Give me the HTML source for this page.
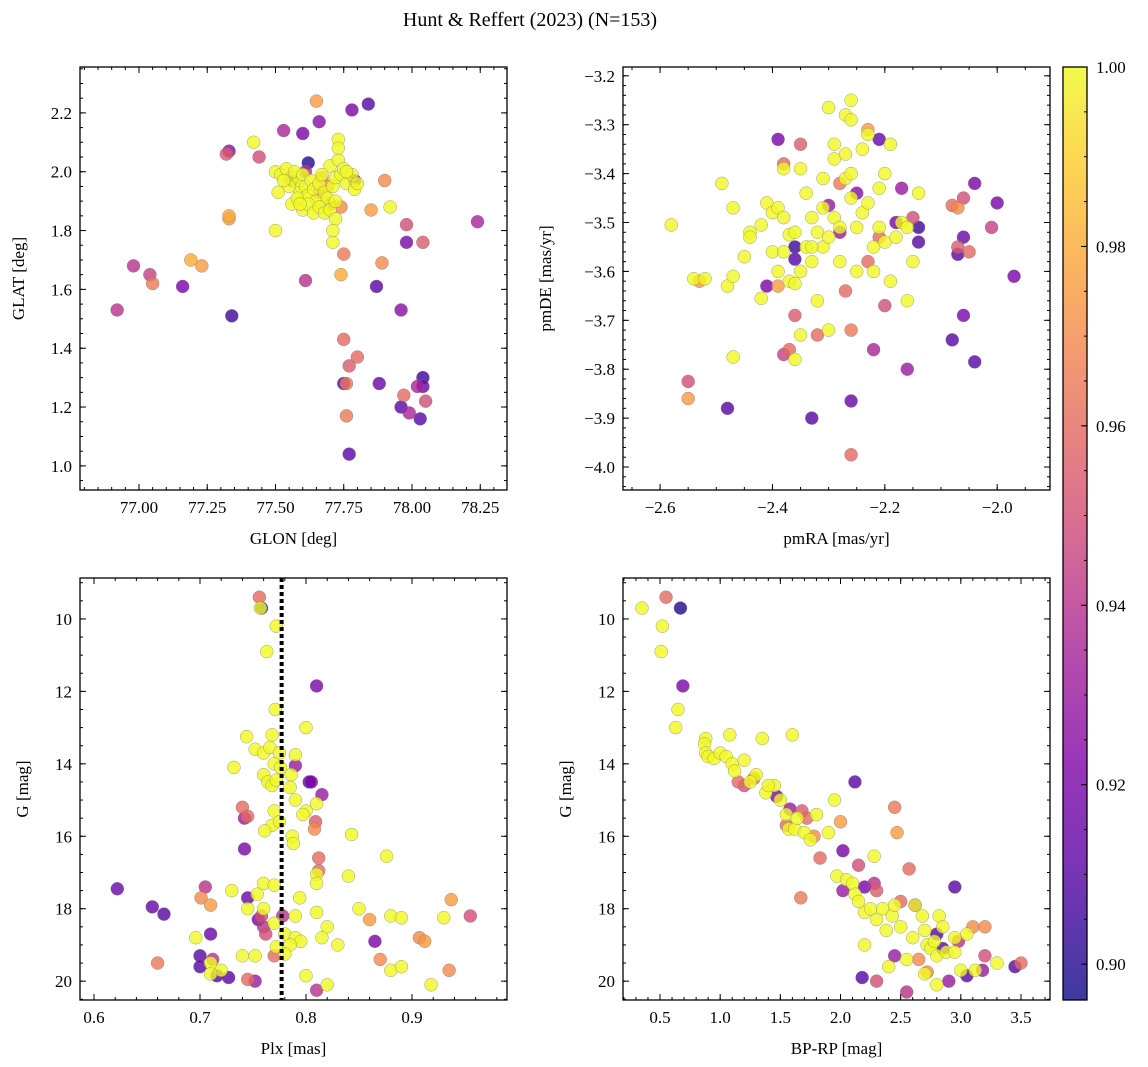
<!DOCTYPE html>
<html><head><meta charset="utf-8"><style>
html,body{margin:0;padding:0;background:#fff;}
svg{display:block;font-family:"Liberation Serif","DejaVu Serif",serif;}
</style></head><body>
<svg id="chart" width="1148" height="1067" viewBox="0 0 1148 1067" xmlns="http://www.w3.org/2000/svg">
<text x="530" y="26" font-size="20" text-anchor="middle">Hunt &amp; Reffert (2023) (N=153)</text>
</svg>
<script>
// ---- data: [x, y, membership probability] ----
const glonGlat = [
[77.65,2.24,0.975],[77.84,2.23,0.91],[77.78,2.21,0.92],[77.66,2.17,0.925],[77.60,2.13,0.92],[77.53,2.14,0.935],[77.42,2.10,1.0],[77.73,2.11,1.0],[77.33,2.07,0.925],[77.32,2.06,0.955],[77.44,2.05,0.95],[77.62,2.03,0.9],[77.90,1.97,0.97],[77.33,1.84,0.975],[77.33,1.85,0.98],[77.50,1.80,1.0],[77.71,1.76,1.0],[77.85,1.87,0.975],[77.92,1.88,1.0],[77.98,1.82,0.95],[77.98,1.76,0.92],[78.04,1.76,0.955],[78.24,1.83,0.935],[77.89,1.69,0.97],[77.75,1.72,0.965],[77.74,1.65,0.98],[77.61,1.63,0.94],[76.98,1.68,0.94],[77.04,1.65,0.945],[77.05,1.62,0.965],[77.16,1.61,0.92],[77.19,1.70,0.98],[77.23,1.68,0.975],[76.92,1.53,0.94],[77.34,1.51,0.905],[77.87,1.61,0.91],[77.96,1.53,0.925],[77.75,1.43,0.96],[77.77,1.34,0.955],[77.80,1.37,0.96],[77.75,1.28,0.91],[77.76,1.28,0.965],[77.76,1.17,0.965],[77.77,1.04,0.91],[77.88,1.28,0.915],[77.97,1.24,0.96],[77.96,1.20,0.91],[77.99,1.18,0.935],[78.02,1.27,0.935],[78.04,1.27,0.915],[78.04,1.30,0.905],[78.05,1.22,0.95],[78.03,1.16,0.91],
[77.50,2.0,1],[77.52,1.99,1],[77.54,2.01,1],[77.56,1.98,1],[77.57,2.00,1],[77.58,1.96,1],[77.59,1.93,1],[77.60,1.99,1],[77.61,1.95,1],[77.62,1.92,1],[77.63,1.97,1],[77.64,1.94,1],[77.65,1.90,1],[77.66,1.96,1],[77.67,1.88,1],[77.68,1.93,1],[77.69,1.91,1],[77.70,2.02,1],[77.71,1.95,1],[77.72,1.98,1],[77.73,2.04,1],[77.74,1.99,1],[77.75,2.01,1],[77.76,1.96,1],[77.78,1.99,1],[77.79,1.94,1],[77.80,1.96,1],[77.56,1.89,1],[77.58,1.91,1],[77.60,1.87,1],[77.62,1.89,1],[77.64,1.86,1],[77.66,1.88,1],[77.68,1.86,1],[77.70,1.87,1],[77.72,1.84,1],[77.71,1.80,1],[77.73,2.08,1],[77.51,1.93,1],[77.55,1.95,1],[77.53,1.97,1],[77.59,1.89,1],[77.67,1.99,1],[77.72,1.90,1],[77.76,2.0,1],
[77.67,1.98,0.97],[77.70,1.89,0.965],[77.66,1.93,0.96],[77.74,1.88,0.97],[77.69,1.95,0.975],[77.56,1.97,0.92],[77.61,2.0,0.94],[77.79,1.97,0.92]];
const pmraPmde = [
[-2.58,-3.505,1],[-2.54,-3.615,1],[-2.52,-3.615,1],[-2.49,-3.42,1],[-2.48,-3.63,1],[-2.47,-3.47,1],[-2.47,-3.61,1],[-2.47,-3.775,1],[-2.45,-3.57,1],[-2.44,-3.52,1],[-2.44,-3.53,1],[-2.42,-3.505,1],[-2.42,-3.655,1],[-2.41,-3.46,1],[-2.40,-3.48,1],[-2.40,-3.56,1],[-2.39,-3.47,1],[-2.39,-3.6,1],[-2.38,-3.49,1],[-2.38,-3.39,1],[-2.37,-3.62,1],[-2.37,-3.525,1],[-2.36,-3.78,1],[-2.35,-3.73,1],[-2.35,-3.60,1],[-2.34,-3.55,1],[-2.34,-3.44,1],[-2.33,-3.49,1],[-2.33,-3.58,1],[-2.32,-3.52,1],[-2.32,-3.66,1],[-2.31,-3.41,1],[-2.31,-3.55,1],[-2.30,-3.265,1],[-2.30,-3.72,1],[-2.29,-3.49,1],[-2.29,-3.37,1],[-2.29,-3.34,1],[-2.28,-3.51,1],[-2.28,-3.58,1],[-2.27,-3.41,1],[-2.27,-3.36,1],[-2.27,-3.28,1],[-2.26,-3.25,1],[-2.26,-3.29,1],[-2.26,-3.45,1],[-2.26,-3.40,1],[-2.25,-3.51,1],[-2.25,-3.6,1],[-2.24,-3.48,1],[-2.23,-3.32,1],[-2.23,-3.46,1],[-2.22,-3.55,1],[-2.22,-3.6,1],[-2.21,-3.51,1],[-2.21,-3.43,1],[-2.20,-3.40,1],[-2.20,-3.54,1],[-2.19,-3.34,1],[-2.19,-3.62,1],[-2.18,-3.53,1],[-2.17,-3.50,1],[-2.16,-3.51,1],[-2.16,-3.66,1],[-2.15,-3.58,1],[-2.14,-3.44,1],[-2.36,-3.625,1],[-2.33,-3.55,1],[-2.31,-3.47,1],[-2.36,-3.52,1],[-2.24,-3.35,1],[-2.30,-3.53,1],[-2.35,-3.39,1],[-2.38,-3.56,1],
[-2.55,-3.825,0.95],[-2.55,-3.86,0.975],[-2.53,-3.62,0.975],[-2.48,-3.88,0.91],[-2.41,-3.63,0.92],[-2.39,-3.33,0.92],[-2.38,-3.38,0.96],[-2.38,-3.77,0.945],[-2.37,-3.76,0.96],[-2.39,-3.63,0.975],[-2.36,-3.69,0.955],[-2.36,-3.55,0.905],[-2.36,-3.575,0.91],[-2.35,-3.34,0.955],[-2.33,-3.90,0.91],[-2.32,-3.73,0.96],[-2.28,-3.42,0.965],[-2.28,-3.52,0.93],[-2.27,-3.64,0.96],[-2.26,-3.72,0.965],[-2.26,-3.865,0.915],[-2.26,-3.975,0.96],[-2.25,-3.44,0.925],[-2.23,-3.31,0.975],[-2.23,-3.58,0.96],[-2.22,-3.76,0.935],[-2.21,-3.53,0.96],[-2.21,-3.33,0.915],[-2.20,-3.67,0.95],[-2.18,-3.5,0.92],[-2.17,-3.43,0.93],[-2.16,-3.80,0.93],[-2.14,-3.54,0.91],[-2.14,-3.51,0.905],[-2.15,-3.49,0.95],[-2.08,-3.465,0.96],[-2.07,-3.47,0.97],[-2.07,-3.55,0.955],[-2.07,-3.565,0.91],[-2.06,-3.53,0.915],[-2.06,-3.69,0.92],[-2.05,-3.56,0.96],[-2.04,-3.42,0.92],[-2.04,-3.785,0.91],[-2.08,-3.74,0.91],[-2.06,-3.45,0.95],[-2.01,-3.51,0.945],[-2.00,-3.46,0.92],[-1.97,-3.61,0.92],[-2.30,-3.465,0.93]];
const plxG = [
[0.757,9.7,1],[0.772,10.2,1],[0.763,10.9,1],[0.771,12.5,1],[0.744,13.25,1],[0.768,13.2,1],[0.80,13.0,1],[0.752,13.6,1],[0.76,13.7,1],[0.766,13.55,1],[0.775,13.7,1],[0.77,14.0,1],[0.76,14.3,1],[0.764,14.5,1],[0.768,14.6,1],[0.772,14.45,1],[0.786,14.3,1],[0.79,13.75,1],[0.785,14.65,1],[0.776,14.1,1],[0.732,14.1,1],[0.79,15.0,1],[0.80,15.3,1],[0.77,15.3,1],[0.768,15.7,1],[0.775,15.6,1],[0.761,15.85,1],[0.787,16.0,1],[0.788,16.2,1],[0.797,15.4,1],[0.81,15.1,1],[0.843,15.95,1],[0.876,16.55,1],[0.81,17.05,1],[0.81,17.3,1],[0.76,17.3,1],[0.754,17.6,1],[0.73,17.5,1],[0.77,17.35,1],[0.794,17.7,1],[0.745,18.0,1],[0.76,18.0,1],[0.79,18.2,1],[0.77,18.4,1],[0.82,18.5,1],[0.81,18.1,1],[0.84,17.1,1],[0.85,18.0,1],[0.88,18.2,1],[0.89,18.25,1],[0.93,18.25,1],[0.78,18.7,1],[0.79,18.8,1],[0.795,18.9,1],[0.785,19.0,1],[0.772,19.05,1],[0.83,19.0,1],[0.815,18.8,1],[0.74,19.3,1],[0.752,19.3,1],[0.78,19.25,1],[0.696,18.8,1],[0.71,19.5,1],[0.72,19.7,1],[0.71,19.8,1],[0.88,19.7,1],[0.89,19.6,1],[0.82,20.1,1],[0.918,20.1,1],[0.80,19.85,1],
[0.756,9.4,0.96],[0.758,9.7,0.9],[0.81,11.85,0.92],[0.79,14.05,0.93],[0.803,14.5,0.91],[0.805,14.5,0.92],[0.815,14.85,0.93],[0.74,15.2,0.96],[0.742,15.5,0.93],[0.745,15.45,0.96],[0.809,15.6,0.955],[0.808,15.8,0.97],[0.742,16.35,0.92],[0.812,16.6,0.96],[0.812,16.95,0.96],[0.622,17.45,0.915],[0.705,17.4,0.94],[0.701,17.7,0.97],[0.71,17.9,0.975],[0.745,17.7,0.915],[0.758,18.2,0.95],[0.755,18.3,0.92],[0.655,17.95,0.915],[0.666,18.15,0.91],[0.71,18.7,0.915],[0.762,18.7,0.95],[0.778,18.2,0.94],[0.86,18.3,0.975],[0.865,18.9,0.92],[0.907,18.8,0.97],[0.912,18.9,0.975],[0.937,17.75,0.975],[0.955,18.2,0.95],[0.935,19.7,0.97],[0.87,19.4,0.97],[0.66,19.5,0.965],[0.70,19.3,0.91],[0.70,19.6,0.91],[0.712,19.4,0.94],[0.716,19.85,0.91],[0.727,19.9,0.91],[0.745,19.95,0.96],[0.752,20.0,0.93],[0.77,19.3,0.96],[0.81,20.25,0.94],[0.76,18.5,0.94]];
const bprpG = [
[0.35,9.7,1],[0.52,10.2,1],[0.51,10.9,1],[0.65,12.5,1],[0.63,13.0,1],[0.88,13.3,1],[0.87,13.45,1],[0.88,13.7,1],[0.9,13.8,1],[0.95,13.85,1],[1.0,13.7,1],[1.08,13.2,1],[1.05,13.8,1],[1.1,14.0,1],[1.12,14.2,1],[1.2,13.9,1],[1.3,14.3,1],[1.35,13.3,1],[1.38,14.8,1],[1.45,14.6,1],[1.5,15.0,1],[1.6,13.2,1],[1.55,15.4,1],[1.57,15.8,1],[1.62,15.8,1],[1.64,15.5,1],[1.7,15.9,1],[1.75,16.1,1],[1.8,15.4,1],[1.9,15.9,1],[1.95,15.0,1],[1.97,17.1,1],[2.05,17.2,1],[2.1,17.3,1],[2.12,17.6,1],[2.15,17.8,1],[2.2,18.1,1],[2.25,18.0,1],[2.28,16.55,1],[2.3,18.3,1],[2.35,18.0,1],[2.38,18.6,1],[2.43,18.2,1],[2.45,17.9,1],[2.5,18.5,1],[2.55,19.4,1],[2.6,18.8,1],[2.62,17.9,1],[2.68,18.2,1],[2.7,18.6,1],[2.72,19.0,1],[2.75,19.1,1],[2.78,18.9,1],[2.8,19.3,1],[2.82,18.2,1],[2.85,18.5,1],[2.88,19.2,1],[2.95,18.8,1],[2.95,19.2,1],[3.0,19.7,1],[3.05,18.7,1],[3.12,19.7,1],[3.3,19.5,1],[2.2,19.0,1],[2.4,19.6,1],[2.8,20.1,1],[2.7,19.8,1],[1.4,14.6,1],[1.25,14.5,1],
[0.55,9.4,0.96],[0.67,9.7,0.9],[0.69,11.85,0.92],[1.15,14.5,0.96],[1.2,14.6,0.95],[1.28,14.4,0.96],[1.47,14.9,0.92],[1.58,15.25,0.93],[1.55,15.7,0.96],[1.68,15.3,0.955],[1.72,15.5,0.96],[1.78,16.0,0.97],[1.83,16.6,0.96],[2.0,15.6,0.975],[2.02,16.4,0.92],[2.12,14.5,0.91],[2.15,16.8,0.95],[2.02,17.5,0.93],[2.3,17.5,0.955],[2.45,15.2,0.965],[2.47,15.9,0.975],[2.57,16.9,0.96],[2.62,17.9,0.93],[1.67,17.7,0.965],[2.28,17.3,0.94],[2.18,19.9,0.91],[2.3,20.0,0.95],[2.45,19.3,0.93],[2.55,20.3,0.94],[2.65,19.4,0.97],[2.72,19.75,0.97],[2.8,18.7,0.91],[2.85,19.1,0.91],[2.9,20.0,0.93],[2.95,17.4,0.91],[2.98,18.9,0.94],[3.05,19.85,0.91],[3.1,18.5,0.97],[3.2,18.5,0.97],[3.2,19.3,0.95],[3.18,19.7,0.93],[3.45,19.6,0.91],[3.5,19.5,0.96],[2.5,17.8,0.96],[2.2,17.4,0.92]];
const plxLine = 0.777;
const pMin = 0.896, pMax = 1.0;
const cbarTicks = [0.90,0.92,0.94,0.96,0.98,1.00];

const NS = "http://www.w3.org/2000/svg";
const svg = document.getElementById('chart');
function mk(tag, attrs, parent){const e=document.createElementNS(NS,tag);for(const k in attrs)e.setAttribute(k,attrs[k]);(parent||svg).appendChild(e);return e;}
const stops=[[0,[13,8,135]],[0.13,[84,2,163]],[0.25,[126,3,168]],[0.38,[168,34,150]],[0.5,[204,71,120]],[0.63,[230,108,92]],[0.75,[248,149,64]],[0.88,[254,195,40]],[1,[240,249,33]]];
function plasma(t){t=Math.max(0,Math.min(1,t));for(let i=1;i<stops.length;i++){if(t<=stops[i][0]){const a=stops[i-1],b=stops[i];const f=(t-a[0])/(b[0]-a[0]);const c=a[1].map((v,j)=>Math.round(v+(b[1][j]-v)*f));return `rgb(${c.join(',')})`;}}return 'rgb(240,249,33)';}
function fmt(v,d){return (v<0?'−':'')+Math.abs(v).toFixed(d);}

function panel(o){
  const g=mk('g',{});
  
  
  const sx=v=>o.x0+(v-o.xd[0])/(o.xd[1]-o.xd[0])*(o.x1-o.x0);
  const sy=v=>o.y1-(v-o.yd[0])/(o.yd[1]-o.yd[0])*(o.y1-o.y0);
  const sorted=o.data.slice().sort((a,b)=>a[2]-b[2]);
  sorted.forEach(d=>{
    const c=mk('circle',{cx:sx(d[0]),cy:sy(d[1]),r:6.5,fill:plasma((d[2]-pMin)/(pMax-pMin)),'fill-opacity':0.8,stroke:'#777','stroke-width':0.5,'stroke-opacity':0.7},g);
    
    
  });
  if(o.vline!==undefined){const l=mk('line',{x1:sx(o.vline),x2:sx(o.vline),y1:o.y0,y2:o.y1,stroke:'#000','stroke-width':4,'stroke-dasharray':'4,3'},g);
    }
  const lo=Math.min(o.xd[0],o.xd[1]),hi=Math.max(o.xd[0],o.xd[1]);
  for(let v=Math.ceil(lo/o.xmin-1e-6)*o.xmin;v<=hi+1e-9;v+=o.xmin){const x=sx(v);mk('line',{x1:x,x2:x,y1:o.y1,y2:o.y1-3,stroke:'#000'},g);mk('line',{x1:x,x2:x,y1:o.y0,y2:o.y0+3,stroke:'#000'},g);}
  o.xt.forEach(v=>{const x=sx(v);mk('line',{x1:x,x2:x,y1:o.y1,y2:o.y1-6,stroke:'#000'},g);mk('line',{x1:x,x2:x,y1:o.y0,y2:o.y0+6,stroke:'#000'},g);
    const t=mk('text',{x:x,y:o.y1+23,'font-size':17,'text-anchor':'middle'},g);t.textContent=fmt(v,o.xdec);});
  const ylo=Math.min(o.yd[0],o.yd[1]),yhi=Math.max(o.yd[0],o.yd[1]);
  for(let v=Math.ceil(ylo/o.ymin-1e-6)*o.ymin;v<=yhi+1e-9;v+=o.ymin){const y=sy(v);mk('line',{x1:o.x0,x2:o.x0+3,y1:y,y2:y,stroke:'#000'},g);mk('line',{x1:o.x1,x2:o.x1-3,y1:y,y2:y,stroke:'#000'},g);}
  o.yt.forEach(v=>{const y=sy(v);mk('line',{x1:o.x0,x2:o.x0+6,y1:y,y2:y,stroke:'#000'},g);mk('line',{x1:o.x1,x2:o.x1-6,y1:y,y2:y,stroke:'#000'},g);
    const t=mk('text',{x:o.x0-8,y:y+6,'font-size':17,'text-anchor':'end'},g);t.textContent=fmt(v,o.ydec);});
  const fr=mk('rect',{x:o.x0,y:o.y0,width:o.x1-o.x0,height:o.y1-o.y0,fill:'none',stroke:'#000','stroke-width':1.3},g);
  
  const xl=mk('text',{x:(o.x0+o.x1)/2,y:o.y1+54,'font-size':17,'text-anchor':'middle'},g);xl.textContent=o.xlab;
  
  const yx=o.ylx,yy=(o.y0+o.y1)/2;
  const yl=mk('text',{x:yx,y:yy,'font-size':17,'text-anchor':'middle',transform:`rotate(-90 ${yx} ${yy})`},g);yl.textContent=o.ylab;
  
}
panel({name:'glon-glat-panel',data:glonGlat,x0:80,x1:507,y0:67,y1:490,xd:[76.784,78.348],yd:[0.918,2.356],xt:[77.0,77.25,77.5,77.75,78.0,78.25],xdec:2,xmin:0.05,yt:[1.0,1.2,1.4,1.6,1.8,2.0,2.2],ydec:1,ymin:0.05,xlab:'GLON [deg]',ylab:'GLAT [deg]',ylx:24});
panel({name:'proper-motion-panel',data:pmraPmde,x0:623,x1:1050,y0:67,y1:490,xd:[-2.666,-1.906],yd:[-4.047,-3.182],xt:[-2.6,-2.4,-2.2,-2.0],xdec:1,xmin:0.05,yt:[-4.0,-3.9,-3.8,-3.7,-3.6,-3.5,-3.4,-3.3,-3.2],ydec:1,ymin:0.02,xlab:'pmRA [mas/yr]',ylab:'pmDE [mas/yr]',ylx:551});
panel({name:'parallax-magnitude-panel',data:plxG,x0:80,x1:507,y0:578,y1:1000,xd:[0.5868,0.9896],yd:[20.52,8.87],xt:[0.6,0.7,0.8,0.9],xdec:1,xmin:0.02,yt:[10,12,14,16,18,20],ydec:0,ymin:0.5,xlab:'Plx [mas]',ylab:'G [mag]',ylx:28,vline:plxLine});
panel({name:'color-magnitude-panel',data:bprpG,x0:623,x1:1050,y0:578,y1:1000,xd:[0.1925,3.741],yd:[20.52,8.87],xt:[0.5,1.0,1.5,2.0,2.5,3.0,3.5],xdec:1,xmin:0.1,yt:[10,12,14,16,18,20],ydec:0,ymin:0.5,xlab:'BP-RP [mag]',ylab:'G [mag]',ylx:571});

const cb=mk('g',{});


const defs=mk('defs',{},cb);
const lg=mk('linearGradient',{id:'cg',x1:0,y1:1,x2:0,y2:0},defs);
for(let i=0;i<=20;i++){mk('stop',{offset:i/20,'stop-color':plasma(i/20),'stop-opacity':0.8},lg);}
const cbx0=1063,cbx1=1087,cby0=67,cby1=1000;
mk('rect',{x:cbx0,y:cby0,width:cbx1-cbx0,height:cby1-cby0,fill:'url(#cg)',stroke:'#000','stroke-width':1.3},cb);
const cy=v=>cby1-(v-pMin)/(pMax-pMin)*(cby1-cby0);
for(let v=0.9;v<=1.0001;v+=0.005){const y=cy(v);mk('line',{x1:cbx1,x2:cbx1-3,y1:y,y2:y,stroke:'#000'},cb);}
cbarTicks.forEach(v=>{const y=cy(v);mk('line',{x1:cbx1,x2:cbx1-6,y1:y,y2:y,stroke:'#000'},cb);
  const t=mk('text',{x:cbx1+9,y:y+6,'font-size':17},cb);t.textContent=v.toFixed(2);
  });
</script>
</body></html>
